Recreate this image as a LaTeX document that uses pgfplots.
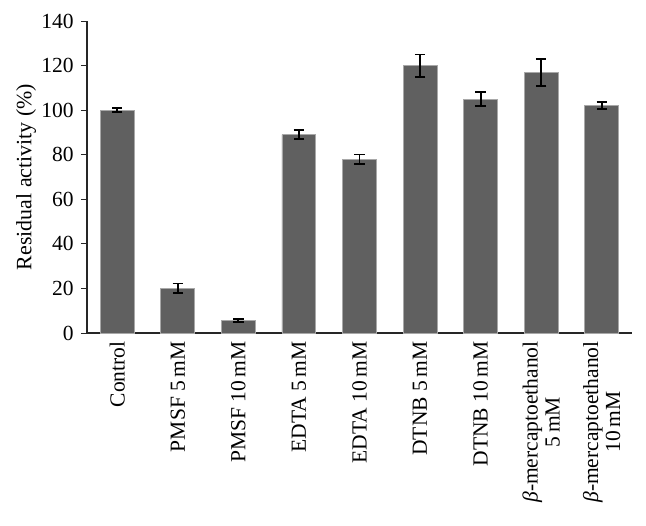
\documentclass[border=0pt]{standalone}
\usepackage{fontspec}
\setmainfont{Liberation Serif}
\usepackage{pgfplots}
\pgfplotsset{compat=1.18}
\definecolor{barfill}{HTML}{606060}
\definecolor{baredge}{HTML}{A8A8A8}
\begin{document}
\fontsize{10.5}{12}\selectfont
\begin{tikzpicture}
\useasboundingbox (-43.5bp,-96.5bp) rectangle (279.5bp,166.5bp);
\begin{axis}[
  scale only axis,
  width=272.5bp, height=156bp,
  at={(0,0)}, anchor=south west,
  ymin=0, ymax=140, ytick={0,20,...,140},
  xmin=-0.5, xmax=8.5,
  axis x line*=bottom, axis y line*=left,
  axis line style={line width=0.6pt, color=black!85},
  xtick=data,
  xtick style={draw=none},
  ytick style={line width=0.5pt, color=black!85},
  tick align=outside,
  major tick length=3bp,
  xticklabels={Control, PMSF 5\,mM, PMSF 10\,mM, EDTA 5\,mM, EDTA 10\,mM, DTNB 5\,mM, DTNB 10\,mM, {\itshape β}-mercaptoethanol\\5\,mM, {\itshape β}-mercaptoethanol\\10\,mM},
  xticklabel style={rotate=90, anchor=east, align=center, font=\fontsize{10.8}{11}\selectfont, inner sep=1pt},
  yticklabel style={font=\fontsize{10.8}{12}\selectfont},
  /pgf/number format/assume math mode=true,
  ylabel={Residual activity (\%)},
  ylabel style={font=\fontsize{11}{12}\selectfont},
  ylabel shift=-4.5bp,
  tick label style={color=black},
  clip=false,
]
\addplot[ybar, bar width=0.56, fill=barfill, draw=baredge, line width=0.4pt,
  error bars/.cd, y dir=both, y explicit,
  error bar style={line width=0.9pt, black},
  error mark options={rotate=90, mark size=2.6bp, line width=0.9pt, black}]
coordinates {
(0,100) +- (0,0.9)
(1,20) +- (0,2.2)
(2,5.5) +- (0,0.7)
(3,89) +- (0,2.1)
(4,78) +- (0,2.1)
(5,120) +- (0,5.0)
(6,105) +- (0,3.2)
(7,117) +- (0,6.0)
(8,102) +- (0,1.5)
};
\end{axis}
\end{tikzpicture}
\end{document}
